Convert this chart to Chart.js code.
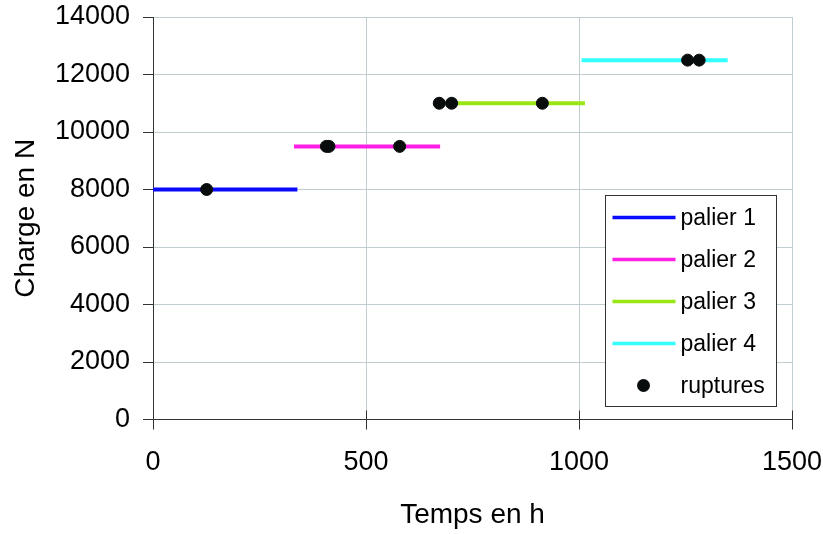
<!DOCTYPE html>
<html lang="fr">
<head>
<meta charset="UTF-8" />
<title>Charge en fonction du temps</title>
<script src="https://cdn.jsdelivr.net/npm/chart.js"></script>
<style>
  body { margin: 0; background: #fff; }
  #wrap { width: 823px; height: 534px; }
</style>
</head>
<body>
<div id="wrap"><canvas id="chart" width="823" height="534"></canvas></div>
<script>
// paliers de charge (debut / fin en h, charge en N)
const paliers = ['palier 1', 'palier 2', 'palier 3', 'palier 4'];
const palierDebut = [0, 331, 672, 1006];
const palierFin = [339, 674, 1014, 1349];
const palierCharge = [8000, 9500, 11000, 12500];
const palierCouleurs = ['#0a0aff', '#ff1ee6', '#99e614', '#33ffff'];

// ruptures
const rupturesTemps = [126, 407, 413, 579, 672, 701, 914, 1255, 1282];
const rupturesCharge = [8000, 9500, 9500, 9500, 11000, 11000, 11000, 12500, 12500];

const xMax = 1500, xStep = 500;
const yMax = 14000, yStep = 2000;

const police = "'Liberation Sans', Arial, sans-serif";
const gridColor = '#c2cdd2';
const axeColor = '#333';

const datasets = [{
  label: 'ruptures',
  data: rupturesTemps.map((t, i) => ({ x: t, y: rupturesCharge[i] })),
  showLine: false,
  pointRadius: 6,
  pointBorderWidth: 1,
  backgroundColor: '#080c0c',
  borderColor: '#080c0c'
}];
paliers.forEach((nom, i) => {
  datasets.push({
    label: nom,
    data: [{ x: palierDebut[i], y: palierCharge[i] }, { x: palierFin[i], y: palierCharge[i] }],
    showLine: true,
    borderColor: palierCouleurs[i],
    backgroundColor: palierCouleurs[i],
    borderWidth: 4,
    pointRadius: 0
  });
});

// petits traits de graduation au-dessus de l'axe X (graduations croisees)
const ticksCroises = {
  id: 'ticksCroises',
  beforeDatasetsDraw(chart) {
    const ctx = chart.ctx, sx = chart.scales.x, area = chart.chartArea;
    ctx.save();
    ctx.strokeStyle = axeColor;
    ctx.lineWidth = 1;
    for (let v = 0; v <= xMax; v += xStep) {
      const px = Math.round(sx.getPixelForValue(v)) + 0.5;
      ctx.beginPath();
      ctx.moveTo(px, area.bottom - 9);
      ctx.lineTo(px, area.bottom);
      ctx.stroke();
    }
    ctx.restore();
  }
};

// legende encadree dans la zone du graphe
const legendeBoite = {
  id: 'legendeBoite',
  afterDatasetsDraw(chart) {
    const ctx = chart.ctx, area = chart.chartArea;
    const w = 171, h = 211;
    const x0 = Math.round(area.right - 16 - w) + 0.5;
    const y0 = Math.round(area.top + 178) + 0.5;
    ctx.save();
    ctx.fillStyle = '#fff';
    ctx.fillRect(x0, y0, w, h);
    ctx.strokeStyle = '#333';
    ctx.lineWidth = 1;
    ctx.strokeRect(x0, y0, w, h);
    ctx.font = '23px ' + police;
    ctx.textBaseline = 'middle';
    ctx.fillStyle = '#000';
    const ordre = [1, 2, 3, 4, 0];
    ordre.forEach((di, r) => {
      const ds = chart.data.datasets[di];
      const y = y0 + 22 + r * 42;
      if (ds.showLine) {
        ctx.strokeStyle = ds.borderColor;
        ctx.lineWidth = 3.5;
        ctx.beginPath();
        ctx.moveTo(x0 + 7, y);
        ctx.lineTo(x0 + 70, y);
        ctx.stroke();
      } else {
        ctx.fillStyle = ds.backgroundColor;
        ctx.beginPath();
        ctx.arc(x0 + 38, y, 6.5, 0, Math.PI * 2);
        ctx.fill();
      }
      ctx.fillStyle = '#000';
      ctx.fillText(ds.label, x0 + 75, y + 1);
    });
    ctx.restore();
  }
};

new Chart(document.getElementById('chart'), {
  type: 'scatter',
  data: { datasets: datasets },
  options: {
    responsive: false,
    animation: false,
    layout: { padding: { top: 17, right: 31, left: 0, bottom: 0 } },
    plugins: { legend: { display: false }, tooltip: { enabled: false } },
    scales: {
      x: {
        type: 'linear',
        min: 0,
        max: xMax,
        afterFit(scale) {
          scale.height = 114.5;
          scale.paddingLeft = 0;
          scale.paddingRight = 0;
        },
        ticks: { stepSize: xStep, color: '#000', font: { family: police, size: 27 }, padding: 17, maxRotation: 0,
                 callback: v => String(v) },
        grid: { color: gridColor, tickColor: axeColor, tickLength: 10 },
        border: { color: axeColor, width: 1 },
        title: { display: true, text: 'Temps en h', color: '#000', font: { family: police, size: 28 }, padding: { top: 0, bottom: 2 } }
      },
      y: {
        min: 0,
        max: yMax,
        afterFit(scale) {
          scale.width = 153;
          scale.paddingTop = 0;
          scale.paddingBottom = 0;
        },
        ticks: { stepSize: yStep, color: '#000', font: { family: police, size: 27 }, padding: 13,
                 callback: v => String(v) },
        grid: { color: gridColor, tickColor: axeColor, tickLength: 10 },
        border: { color: axeColor, width: 1 },
        title: { display: true, text: 'Charge en N', color: '#000', font: { family: police, size: 28 }, padding: { top: 9, bottom: 0 } }
      }
    }
  },
  plugins: [ticksCroises, legendeBoite]
});
</script>
</body>
</html>
